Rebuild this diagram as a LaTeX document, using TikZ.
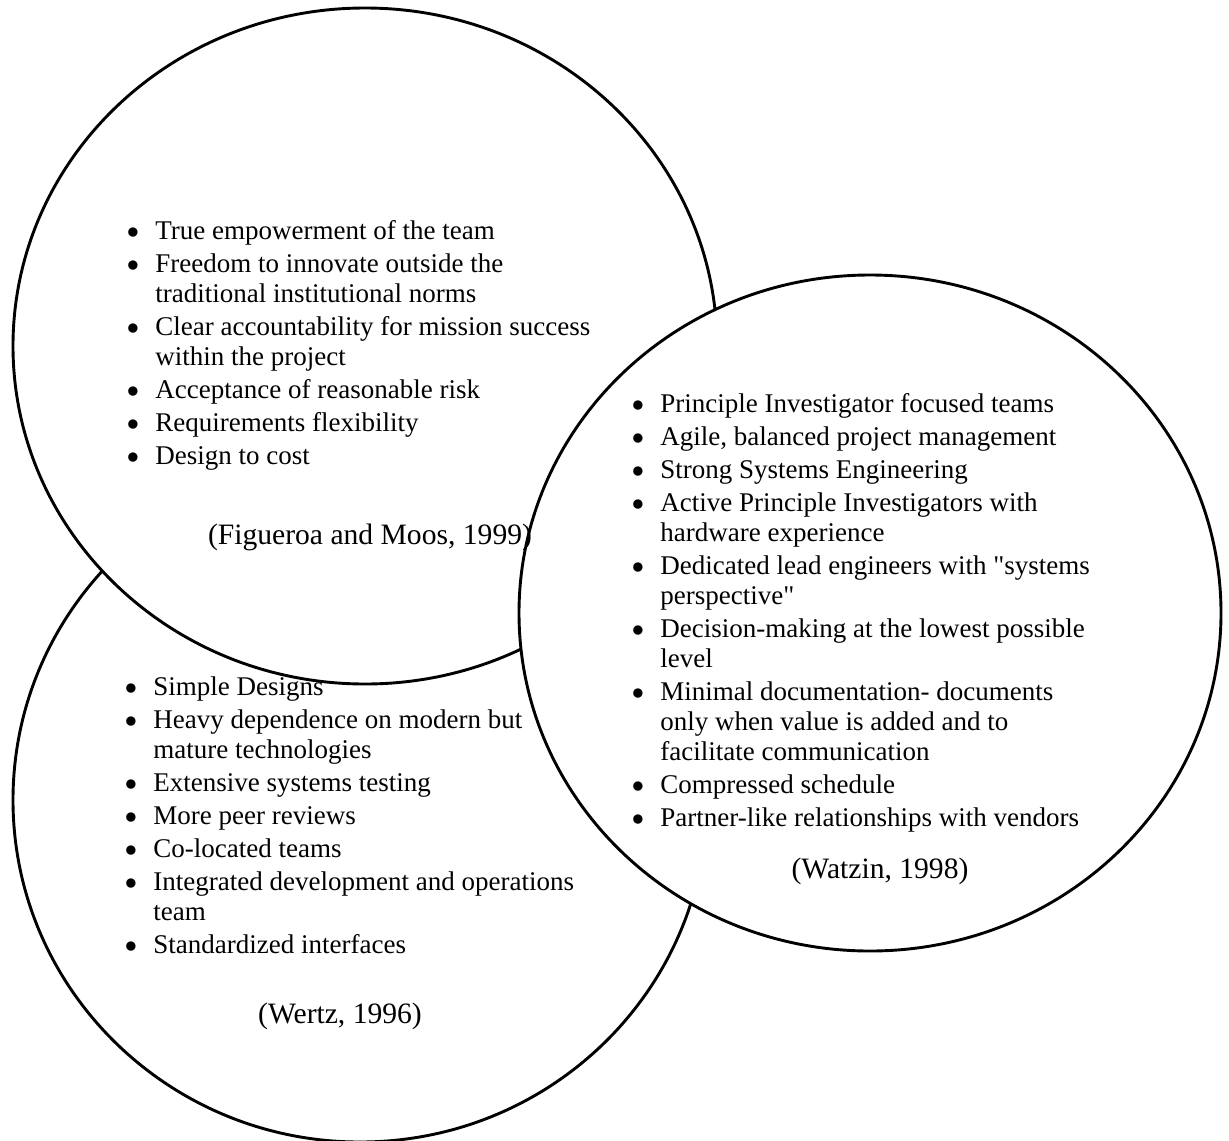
\documentclass[tikz,border=0pt]{standalone}
\usepackage{fontspec}
\setmainfont{Liberation Serif}
\usetikzlibrary{shapes.geometric}

% large round bullet hanging to the left of the item text
\newcommand{\bl}{\llap{\smash{\raisebox{-3.2pt}{\scalebox{1.45}{\textbullet}}}\hspace{7.5pt}}}
% a list block whose baseline is the baseline of its first line
\newcommand{\itemblock}[1]{\begin{tabular}[t]{@{}l@{}}#1\end{tabular}}

\begin{document}
\begin{tikzpicture}[x=0.5pt,y=-0.5pt,
  ring/.style={ellipse, draw=black, line width=1.45pt, fill=white,
               inner sep=0pt, outer sep=0pt},
  listtext/.style={anchor=base west, inner sep=0pt,
                   font=\fontsize{13.5}{15}\selectfont},
  citetext/.style={anchor=base, inner sep=0pt,
                   font=\fontsize{14.8}{16}\selectfont}]
\useasboundingbox (0,0) rectangle (1229,1140);

% the three overlapping circles, back to front
\node[ring, minimum width=347pt, minimum height=342pt] (wertz) at (360,800) {};
\node[ring, minimum width=352pt, minimum height=338pt] (figueroa) at (365,346) {};
\node[ring, minimum width=351pt, minimum height=338pt] (watzin) at (870,613) {};

% Figueroa and Moos
\node[listtext] (figlist) at (155,239) {\itemblock{%
\bl True empowerment of the team\\[1.5pt]
\bl Freedom to innovate outside the\\
traditional institutional norms\\[1.5pt]
\bl Clear accountability for mission success\\
within the project\\[1.5pt]
\bl Acceptance of reasonable risk\\[1.5pt]
\bl Requirements flexibility\\[1.5pt]
\bl Design to cost}};
\node[citetext] (figcite) at (370,544) {(Figueroa and Moos, 1999)};

% Watzin
\node[listtext] (watlist) at (660,412) {\itemblock{%
\bl Principle Investigator focused teams\\[1.5pt]
\bl Agile, balanced project management\\[1.5pt]
\bl Strong Systems Engineering\\[1.5pt]
\bl Active Principle Investigators with\\
hardware experience\\[1.5pt]
\bl Dedicated lead engineers with \textquotedbl systems\\
perspective\textquotedbl\\[1.5pt]
\bl Decision-making at the lowest possible\\
level\\[1.5pt]
\bl Minimal documentation- documents\\
only when value is added and to\\
facilitate communication\\[1.5pt]
\bl Compressed schedule\\[1.5pt]
\bl Partner-like relationships with vendors}};
\node[citetext] (watcite) at (880,878) {(Watzin, 1998)};

% Wertz
\node[listtext] (werlist) at (153,695) {\itemblock{%
\bl Simple Designs\\[1.5pt]
\bl Heavy dependence on modern but\\
mature technologies\\[1.5pt]
\bl Extensive systems testing\\[1.5pt]
\bl More peer reviews\\[1.5pt]
\bl Co-located teams\\[1.5pt]
\bl Integrated development and operations\\
team\\[1.5pt]
\bl Standardized interfaces}};
\node[citetext] (wercite) at (340,1023) {(Wertz, 1996)};
\end{tikzpicture}
\end{document}
